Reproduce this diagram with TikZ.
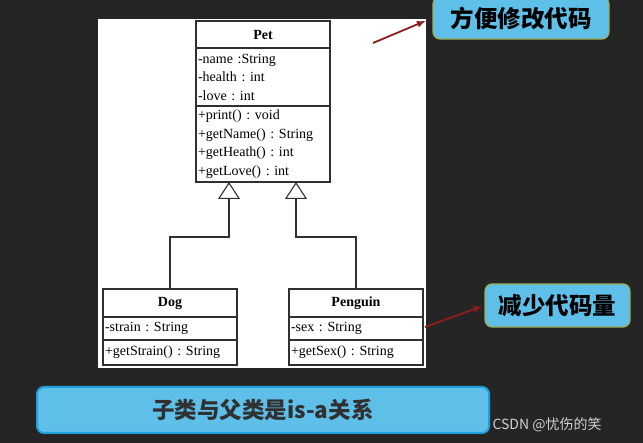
\documentclass[tikz,border=0pt]{standalone}
\usepackage{fontspec}
\setmainfont{Liberation Serif}
\newfontfamily\cjk{Noto Sans CJK SC}
\usepackage{tikz}
\usetikzlibrary{positioning, arrows.meta}
\frenchspacing

\definecolor{fondo}{HTML}{252525}
\definecolor{linea}{HTML}{303030}
\definecolor{celeste}{HTML}{5EBFE8}
\definecolor{oliva}{HTML}{9CAF55}
\definecolor{azul}{HTML}{1FA0DC}
\definecolor{granate}{HTML}{8C1E1E}

\begin{document}
\begin{tikzpicture}[x=1pt, y=-1pt]
        \tikzset{
            cabecera/.style={draw=linea, line width=1.2pt, outer sep=0pt, inner xsep=2pt,
                text width=130pt, align=center, font=\fontsize{14}{18.5}\selectfont\bfseries},
            seccion/.style={draw=linea, line width=1.2pt, outer sep=0pt, inner xsep=2pt,
                text width=130pt, align=left, font=\fontsize{14}{18.5}\selectfont},
            hereda/.style={draw=linea, line width=1.1pt, -{Triangle[open, length=17pt, width=22pt]}},
            nota/.style={draw=oliva, line width=1.2pt, fill=celeste, rounded corners=7pt,
                font=\cjk\bfseries\fontsize{23.5}{26}\selectfont},
            flecha/.style={draw=granate, line width=1.8pt, -{Latex[length=9pt, width=7pt]}}
        }
        \useasboundingbox (0,0) rectangle (643,443);
        \fill[fondo] (0,0) rectangle (643,443);
        \fill[white] (98,19) rectangle (426,368);

        % Clases
        \node[cabecera, minimum height=27pt] (petH) at (263,34.5) {Pet};
        \node[seccion, minimum height=58pt] (petA) [below=0pt of petH] {-name :String\\-health : int\\-love : int};
        \node[seccion, minimum height=76pt] (petM) [below=0pt of petA] {+print() : void\\+getName() : String\\+getHeath() : int\\+getLove() : int};

        \node[cabecera, minimum height=28pt] (dogH) at (170,303) {Dog};
        \node[seccion, minimum height=23pt] (dogA) [below=0pt of dogH] {-strain : String};
        \node[seccion, minimum height=25pt] (dogM) [below=0pt of dogA] {+getStrain() : String};

        \node[cabecera, minimum height=28pt] (penH) at (356,303) {Penguin};
        \node[seccion, minimum height=23pt] (penA) [below=0pt of penH] {-sex : String};
        \node[seccion, minimum height=25pt] (penM) [below=0pt of penA] {+getSex() : String};

        % Herencia
        \coordinate (tipl) at (229,182);
        \coordinate (tipr) at (296,182);
        \draw[hereda] (dogH.north) -- ++(0,-52) -| (tipl);
        \draw[hereda] (penH.north) -- ++(0,-52) -| (tipr);

        % Notas
        \node[nota, minimum width=176pt, minimum height=42pt] (call1) at (521,18) {方便修改代码};
        \node[nota, minimum width=145pt, minimum height=43pt] (call2) at (557.5,305.5) {减少代码量};
        \node[draw=azul, line width=2pt, fill=celeste, rounded corners=7pt, minimum width=452pt,
            minimum height=46pt, text=linea, font=\cjk\bfseries\fontsize{22.5}{26}\selectfont]
            (isa) at (263,410) {子类与父类是is-a关系};
        \node[text=white!82!black, font=\cjk\fontsize{14}{16}\selectfont, anchor=west] (marca) at (489,425) {CSDN @忧伤的笑};

        \coordinate (n1) at (373,43);
        \coordinate (n2) at (425,327);
        \draw[flecha, shorten >=7pt] (n1) -- (call1.west);
        \draw[flecha, shorten >=2pt] (n2) -- (call2.west);
    \end{tikzpicture}
\end{document}
